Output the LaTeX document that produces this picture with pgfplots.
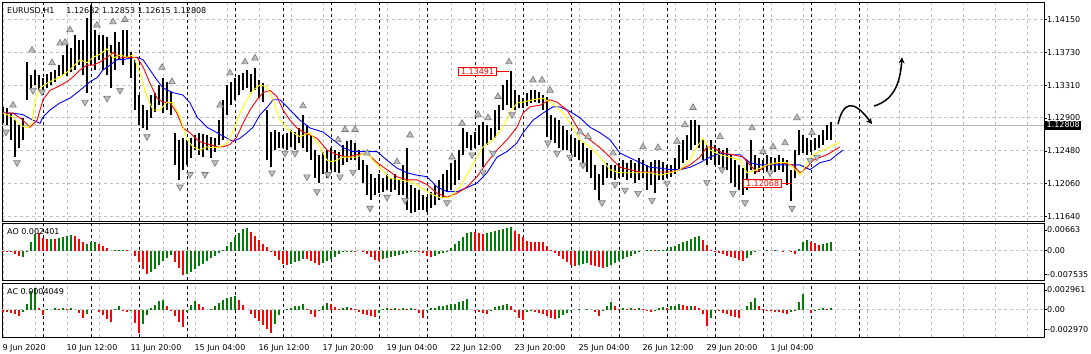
\documentclass[border=0pt]{standalone}
\usepackage{pgfplots}
\pgfplotsset{compat=1.18}
\usepackage{pgfplotstable}
\usepackage{fontspec}
\setmainfont{DejaVu Sans}
\usetikzlibrary{arrows.meta}
\definecolor{gridc}{RGB}{192,192,192}
\definecolor{aogreen}{RGB}{0,128,0}
\definecolor{aored}{RGB}{255,0,0}
\definecolor{mayellow}{RGB}{255,255,0}
\definecolor{fracfill}{RGB}{190,190,190}
\definecolor{fracdraw}{RGB}{120,120,120}

\pgfplotstableread{
x h l
3 1.1304 1.1283
7 1.1303 1.1281
11 1.1296 1.1262
15 1.1287 1.1240
19 1.1281 1.1252
23 1.1290 1.1262
27 1.1361 1.1313
31 1.1345 1.1328
35 1.1351 1.1332
39 1.1345 1.1325
43 1.1341 1.1323
47 1.1346 1.1328
51 1.1348 1.1332
55 1.1351 1.1336
59 1.1357 1.1343
63 1.1370 1.1344
67 1.1383 1.1343
71 1.1379 1.1348
75 1.1396 1.1351
79 1.1389 1.1357
83 1.1389 1.1345
87 1.1417 1.1322
91 1.1434 1.1357
95 1.1402 1.1351
99 1.1396 1.1364
103 1.1396 1.1351
107 1.1393 1.1344
111 1.1383 1.1328
115 1.1399 1.1351
119 1.1386 1.1364
123 1.1402 1.1357
127 1.1402 1.1366
131 1.1374 1.1341
135 1.1364 1.1300
139 1.1319 1.1281
143 1.1306 1.1277
147 1.1300 1.1275
151 1.1319 1.1290
155 1.1322 1.1297
159 1.1332 1.1306
163 1.1341 1.1296
167 1.1336 1.1300
171 1.1323 1.1294
175 1.1271 1.1230
179 1.1262 1.1211
183 1.1264 1.1224
187 1.1262 1.1230
191 1.1264 1.1239
195 1.1268 1.1249
199 1.1271 1.1243
203 1.1269 1.1240
207 1.1268 1.1249
211 1.1266 1.1239
215 1.1264 1.1247
219 1.1287 1.1256
223 1.1313 1.1262
227 1.1332 1.1294
231 1.1336 1.1306
235 1.1341 1.1313
239 1.1345 1.1319
243 1.1347 1.1325
247 1.1351 1.1328
251 1.1346 1.1323
255 1.1354 1.1325
259 1.1338 1.1315
263 1.1334 1.1310
267 1.1300 1.1236
271 1.1272 1.1227
275 1.1275 1.1249
279 1.1272 1.1252
283 1.1268 1.1252
287 1.1271 1.1249
291 1.1275 1.1253
295 1.1272 1.1249
299 1.1277 1.1258
303 1.1294 1.1252
307 1.1281 1.1247
311 1.1268 1.1236
315 1.1249 1.1214
319 1.1243 1.1207
323 1.1247 1.1218
327 1.1249 1.1214
331 1.1252 1.1224
335 1.1249 1.1221
339 1.1247 1.1220
343 1.1256 1.1230
347 1.1260 1.1234
351 1.1262 1.1236
355 1.1258 1.1236
359 1.1249 1.1224
363 1.1236 1.1207
367 1.1230 1.1192
371 1.1218 1.1185
375 1.1214 1.1192
379 1.1218 1.1194
383 1.1214 1.1196
387 1.1218 1.1198
391 1.1214 1.1196
395 1.1218 1.1198
399 1.1211 1.1192
403 1.1230 1.1192
407 1.1252 1.1173
411 1.1205 1.1169
415 1.1201 1.1170
419 1.1198 1.1173
423 1.1192 1.1173
427 1.1189 1.1170
431 1.1196 1.1175
435 1.1205 1.1179
439 1.1211 1.1185
443 1.1218 1.1188
447 1.1224 1.1196
451 1.1233 1.1198
455 1.1236 1.1205
459 1.1249 1.1211
463 1.1277 1.1243
467 1.1272 1.1252
471 1.1268 1.1249
475 1.1272 1.1252
479 1.1281 1.1256
483 1.1285 1.1227
487 1.1281 1.1256
491 1.1277 1.1262
495 1.1300 1.1264
499 1.1306 1.1275
503 1.1332 1.1300
507 1.1338 1.1306
511 1.1349 1.1303
515 1.1325 1.1300
519 1.1319 1.1303
523 1.1315 1.1303
527 1.1322 1.1305
531 1.1325 1.1309
535 1.1325 1.1310
539 1.1323 1.1309
543 1.1319 1.1300
547 1.1317 1.1266
551 1.1294 1.1262
555 1.1290 1.1258
559 1.1287 1.1252
563 1.1279 1.1249
567 1.1275 1.1249
571 1.1268 1.1245
575 1.1264 1.1240
579 1.1262 1.1236
583 1.1258 1.1230
587 1.1252 1.1221
591 1.1249 1.1214
595 1.1230 1.1198
599 1.1218 1.1185
603 1.1230 1.1205
607 1.1233 1.1214
611 1.1230 1.1214
615 1.1230 1.1211
619 1.1233 1.1214
623 1.1236 1.1215
627 1.1233 1.1211
631 1.1236 1.1214
635 1.1233 1.1207
639 1.1239 1.1211
643 1.1236 1.1214
647 1.1230 1.1198
651 1.1234 1.1205
655 1.1236 1.1194
659 1.1236 1.1211
663 1.1234 1.1211
667 1.1230 1.1214
671 1.1230 1.1215
675 1.1239 1.1218
679 1.1256 1.1224
683 1.1262 1.1233
687 1.1268 1.1236
691 1.1287 1.1249
695 1.1287 1.1256
699 1.1281 1.1252
703 1.1262 1.1236
707 1.1256 1.1230
711 1.1262 1.1236
715 1.1256 1.1230
719 1.1252 1.1230
723 1.1249 1.1226
727 1.1252 1.1224
731 1.1243 1.1207
735 1.1236 1.1202
739 1.1230 1.1198
743 1.1226 1.1192
747 1.1236 1.1198
751 1.1262 1.1224
755 1.1243 1.1218
759 1.1239 1.1221
763 1.1236 1.1224
767 1.1243 1.1221
771 1.1240 1.1224
775 1.1239 1.1221
779 1.1243 1.1224
783 1.1239 1.1221
787 1.1236 1.1205
791 1.1224 1.1184
795 1.1249 1.1214
799 1.1275 1.1243
803 1.1268 1.1245
807 1.1264 1.1243
811 1.1262 1.1247
815 1.1264 1.1249
819 1.1268 1.1252
823 1.1275 1.1256
827 1.1281 1.1262
831 1.1285 1.1262
}\bars

\pgfplotstableread{
x v c
3 -0.0002 0
7 -0.0004 0
11 -0.0006 0
15 -0.0012 0
19 -0.0018 0
23 -0.0022 1
27 -0.0006 1
31 0.0027 1
35 0.0053 1
39 0.0056 0
43 0.0039 0
47 0.0037 0
51 0.0038 1
55 0.0037 0
59 0.0040 1
63 0.0043 1
67 0.0046 1
71 0.0049 1
75 0.0046 0
79 0.0036 0
83 0.0026 0
87 0.0022 1
91 0.0026 1
95 0.0028 1
99 0.0020 0
103 0.0014 0
107 0.0007 0
111 0.0000 0
115 0.0001 1
119 0.0002 1
123 0.0003 1
127 0.0001 0
131 0.0000 0
135 -0.0016 0
139 -0.0037 0
143 -0.0058 0
147 -0.0074 0
151 -0.0070 1
155 -0.0058 1
159 -0.0046 1
163 -0.0034 1
167 -0.0023 1
171 -0.0015 1
175 -0.0036 0
179 -0.0056 0
183 -0.0078 0
187 -0.0075 1
191 -0.0067 1
195 -0.0059 1
199 -0.0050 1
203 -0.0042 1
207 -0.0033 1
211 -0.0025 1
215 -0.0016 1
219 -0.0008 1
223 0.0002 1
227 0.0015 1
231 0.0028 1
235 0.0042 1
239 0.0055 1
243 0.0068 1
247 0.0073 1
251 0.0060 0
255 0.0046 0
259 0.0034 0
263 0.0022 0
267 0.0011 0
271 -0.0002 0
275 -0.0016 0
279 -0.0029 0
283 -0.0042 0
287 -0.0047 0
291 -0.0042 1
295 -0.0037 1
299 -0.0032 1
303 -0.0027 1
307 -0.0027 0
311 -0.0032 0
315 -0.0039 0
319 -0.0046 0
323 -0.0041 1
327 -0.0034 1
331 -0.0026 1
335 -0.0019 1
339 -0.0012 1
343 -0.0004 1
347 -0.0002 1
351 -0.0001 1
355 -0.0002 0
359 0.0000 1
363 -0.0003 0
367 -0.0012 0
371 -0.0020 0
375 -0.0029 0
379 -0.0032 0
383 -0.0028 1
387 -0.0025 1
391 -0.0021 1
395 -0.0018 1
399 -0.0015 1
403 -0.0012 1
407 -0.0008 1
411 -0.0005 1
415 -0.0002 1
419 -0.0003 0
423 -0.0009 0
427 -0.0016 0
431 -0.0022 0
435 -0.0017 1
439 -0.0012 1
443 -0.0007 1
447 -0.0002 1
451 0.0008 1
455 0.0020 1
459 0.0032 1
463 0.0044 1
467 0.0056 1
471 0.0061 1
475 0.0058 0
479 0.0056 0
483 0.0053 0
487 0.0056 1
491 0.0059 1
495 0.0062 1
499 0.0065 1
503 0.0069 1
507 0.0072 1
511 0.0075 1
515 0.0064 0
519 0.0054 0
523 0.0043 0
527 0.0032 0
531 0.0029 0
535 0.0028 0
539 0.0027 0
543 0.0026 0
547 0.0016 0
551 0.0003 0
555 -0.0007 0
559 -0.0016 0
563 -0.0026 0
567 -0.0035 0
571 -0.0045 0
575 -0.0049 0
579 -0.0045 1
583 -0.0042 1
587 -0.0041 1
591 -0.0045 0
595 -0.0050 0
599 -0.0054 0
603 -0.0057 0
607 -0.0051 1
611 -0.0046 1
615 -0.0040 1
619 -0.0034 1
623 -0.0028 1
627 -0.0022 1
631 -0.0016 1
635 -0.0011 1
639 -0.0005 1
643 0.0000 1
647 0.0001 1
651 0.0002 1
655 0.0001 0
659 0.0002 1
663 0.0003 1
667 0.0004 1
671 0.0010 1
675 0.0015 1
679 0.0020 1
683 0.0026 1
687 0.0031 1
691 0.0036 1
695 0.0042 1
699 0.0047 1
703 0.0035 0
707 0.0019 0
711 0.0003 0
715 -0.0003 0
719 -0.0008 0
723 -0.0012 0
727 -0.0016 0
731 -0.0020 0
735 -0.0024 0
739 -0.0029 0
743 -0.0033 0
747 -0.0024 1
751 -0.0014 1
755 -0.0005 1
759 0.0000 1
763 0.0000 0
767 0.0001 1
771 0.0000 0
775 0.0001 1
779 0.0000 0
783 -0.0001 0
787 0.0000 1
791 -0.0005 0
795 -0.0012 0
799 0.0004 1
803 0.0026 1
807 0.0034 1
811 0.0028 0
815 0.0023 0
819 0.0019 0
823 0.0021 1
827 0.0025 1
831 0.0029 1
}\aodata

\pgfplotstableread{
x v c
3 -0.0004 0
7 -0.0004 0
11 -0.0005 0
15 -0.0007 0
19 -0.0010 0
23 -0.0004 1
27 0.0009 1
31 0.0028 1
35 0.0033 1
39 0.0003 0
43 -0.0008 0
47 0.0001 1
51 0.0000 0
55 0.0002 1
59 0.0001 0
63 0.0002 1
67 0.0001 0
71 0.0002 1
75 0.0000 0
79 -0.0005 0
83 -0.0013 0
87 -0.0006 1
91 0.0000 1
95 0.0000 0
99 -0.0003 0
103 -0.0008 0
107 -0.0014 0
111 -0.0019 0
115 0.0001 1
119 0.0006 1
123 -0.0001 0
127 -0.0004 0
131 -0.0001 1
135 -0.0020 0
139 -0.0035 0
143 -0.0022 1
147 -0.0008 1
151 0.0002 1
155 0.0007 1
159 0.0013 1
163 0.0015 1
167 0.0006 0
171 -0.0002 0
175 -0.0010 0
179 -0.0019 0
183 -0.0026 0
187 -0.0003 1
191 0.0007 1
195 0.0013 1
199 0.0009 0
203 0.0004 0
207 0.0000 0
211 0.0001 1
215 0.0006 1
219 0.0010 1
223 0.0014 1
227 0.0017 1
231 0.0019 1
235 0.0021 1
239 0.0014 0
243 0.0007 0
247 0.0000 0
251 -0.0006 0
255 -0.0012 0
259 -0.0017 0
263 -0.0023 0
267 -0.0029 0
271 -0.0035 0
275 -0.0022 1
279 -0.0008 1
283 0.0000 1
287 0.0001 1
291 0.0003 1
295 0.0005 1
299 0.0006 1
303 0.0008 1
307 0.0001 0
311 -0.0006 0
315 -0.0011 0
319 -0.0002 1
323 0.0005 1
327 0.0010 1
331 0.0008 0
335 0.0004 0
339 0.0001 0
343 0.0003 1
347 0.0004 1
351 0.0003 0
355 0.0001 0
359 -0.0003 0
363 -0.0006 0
367 -0.0008 0
371 -0.0010 0
375 -0.0011 0
379 -0.0005 1
383 0.0001 1
387 0.0002 1
391 0.0001 0
395 0.0002 1
399 0.0001 0
403 0.0002 1
407 0.0001 0
411 0.0002 1
415 0.0001 0
419 -0.0005 0
423 -0.0013 0
427 -0.0001 1
431 0.0002 1
435 0.0003 1
439 0.0005 1
443 0.0006 1
447 0.0007 1
451 0.0008 1
455 0.0009 1
459 0.0011 1
463 0.0013 1
467 0.0016 1
471 0.0000 0
475 -0.0002 0
479 -0.0003 0
483 -0.0005 0
487 -0.0006 0
491 -0.0002 1
495 0.0004 1
499 0.0006 1
503 0.0007 1
507 0.0008 1
511 0.0005 0
515 -0.0004 0
519 -0.0013 0
523 -0.0016 0
527 -0.0004 1
531 -0.0001 1
535 -0.0003 0
539 -0.0005 0
543 -0.0006 0
547 -0.0009 0
551 -0.0013 0
555 -0.0014 0
559 -0.0013 1
563 -0.0008 1
567 -0.0005 1
571 -0.0002 1
575 0.0000 1
579 0.0001 1
583 0.0000 0
587 0.0001 1
591 0.0000 0
595 -0.0004 0
599 -0.0009 0
603 -0.0002 1
607 0.0006 1
611 0.0012 1
615 0.0006 0
619 0.0001 0
623 0.0002 1
627 0.0001 0
631 0.0002 1
635 0.0001 0
639 0.0002 1
643 0.0001 0
647 -0.0002 0
651 -0.0004 0
655 -0.0002 1
659 0.0003 1
663 0.0004 1
667 0.0003 0
671 0.0005 1
675 0.0006 1
679 0.0008 1
683 0.0007 0
687 0.0005 0
691 0.0006 1
695 0.0005 0
699 0.0003 0
703 -0.0007 0
707 -0.0024 0
711 -0.0012 1
715 -0.0001 1
719 -0.0002 0
723 -0.0005 0
727 -0.0007 0
731 -0.0009 0
735 -0.0011 0
739 -0.0012 0
743 0.0000 1
747 0.0006 1
751 0.0011 1
755 0.0017 1
759 0.0006 0
763 0.0001 0
767 -0.0001 0
771 -0.0002 0
775 -0.0003 0
779 -0.0004 0
783 -0.0005 0
787 -0.0006 0
791 -0.0004 1
795 -0.0001 1
799 0.0012 1
803 0.0023 1
807 0.0000 0
811 -0.0005 0
815 -0.0001 1
819 0.0001 1
823 0.0002 1
827 0.0001 0
831 0.0003 1
}\acdata

\pgfplotsset{
  mt4/.style={
    scale only axis, clip=false, anchor=south west,
    width=1042pt, xmin=2, xmax=1044,
    axis line style={black, line width=0.8pt},
    xtick={3.4,35.4,...,1030},
    xmajorgrids=true,
    grid style={gridc, dash pattern=on 3pt off 3pt, line width=0.8pt},
    xtick style={draw=none},
    ytick pos=right, yticklabel pos=right,
    ytick style={black, line width=0.6pt},
    tick align=outside, major tick length=3pt,
    scaled y ticks=false, scaled x ticks=false,
    every tick label/.append style={font=\fontsize{8}{9}\selectfont},
    yticklabel style={anchor=west, inner sep=0pt},
    extra x ticks={43.4,91.4,...,860},
    extra x tick labels={},
    extra x tick style={major grid style={black, dash pattern=on 3pt off 3pt, line width=0.8pt}},
  },
  osc/.style={ycomb, line width=1.8pt, forget plot},
}

\begin{document}
\begin{tikzpicture}
\useasboundingbox (0pt,0pt) rectangle (1091pt,353pt);

% ---------------- main price panel ----------------
\begin{axis}[mt4, at={(2pt,131.5pt)}, height=219pt,
  ymin=1.11580, ymax=1.14368, ymajorgrids=true,
  ytick={1.1415,1.1373,1.1331,1.1290,1.1248,1.1206,1.1164},
  yticklabels={1.14150,1.13730,1.13310,1.12900,1.12480,1.12060,1.11640},
  xticklabels={}]
\addplot[gray!55, line width=0.9pt, forget plot] coordinates {(2,1.12808) (1044,1.12808)};
% high-low bars
\addplot[black, line width=1.45pt, line cap=butt, no marks, forget plot,
  quiver={u=0, v=\thisrow{h}-\thisrow{l}}]
  table[x=x, y=l] {\bars};
% moving averages
\addplot[blue, line width=0.9pt] coordinates {(3,1.1296)(13,1.1296)(23,1.1294)(33,1.1287)(40,1.1283)(43,1.1291)(50,1.1300)(60,1.1309)(70,1.1315)(80,1.1325)(90,1.1336)(97,1.1341)(103,1.1351)(110,1.1357)(117,1.1364)(123,1.1364)(130,1.1366)(137,1.1367)(143,1.1364)(150,1.1351)(157,1.1338)(163,1.1328)(173,1.1322)(183,1.1319)(190,1.1309)(197,1.1291)(207,1.1278)(217,1.1271)(227,1.1264)(233,1.1260)(240,1.1264)(247,1.1271)(253,1.1278)(260,1.1294)(267,1.1303)(273,1.1313)(280,1.1313)(287,1.1304)(293,1.1296)(300,1.1287)(310,1.1277)(323,1.1272)(333,1.1262)(343,1.1252)(353,1.1247)(363,1.1247)(377,1.1247)(387,1.1236)(397,1.1226)(407,1.1220)(417,1.1217)(427,1.1215)(437,1.1202)(447,1.1196)(457,1.1196)(467,1.1201)(477,1.1207)(487,1.1220)(497,1.1240)(507,1.1247)(517,1.1258)(523,1.1271)(533,1.1287)(543,1.1296)(553,1.1304)(560,1.1304)(570,1.1298)(580,1.1290)(590,1.1278)(600,1.1271)(610,1.1262)(620,1.1245)(630,1.1239)(640,1.1233)(650,1.1227)(660,1.1226)(670,1.1224)(680,1.1224)(690,1.1227)(700,1.1233)(710,1.1240)(720,1.1245)(730,1.1243)(740,1.1243)(750,1.1233)(760,1.1230)(770,1.1230)(780,1.1230)(790,1.1230)(800,1.1230)(810,1.1224)(820,1.1233)(830,1.1236)(843,1.1249)};
\addplot[red, line width=0.9pt] coordinates {(3,1.1296)(13,1.1296)(23,1.1287)(30,1.1278)(37,1.1287)(43,1.1313)(50,1.1325)(57,1.1329)(67,1.1336)(73,1.1342)(80,1.1351)(87,1.1357)(93,1.1357)(100,1.1361)(107,1.1367)(113,1.1373)(120,1.1366)(127,1.1367)(137,1.1367)(143,1.1355)(150,1.1334)(157,1.1315)(163,1.1310)(170,1.1309)(177,1.1296)(183,1.1277)(190,1.1271)(197,1.1262)(203,1.1258)(210,1.1256)(217,1.1253)(223,1.1253)(230,1.1256)(237,1.1266)(243,1.1283)(250,1.1300)(257,1.1313)(263,1.1322)(270,1.1325)(277,1.1317)(283,1.1300)(290,1.1287)(297,1.1277)(303,1.1272)(317,1.1264)(327,1.1249)(337,1.1243)(347,1.1240)(357,1.1243)(367,1.1245)(377,1.1233)(387,1.1224)(397,1.1215)(407,1.1211)(417,1.1211)(427,1.1205)(437,1.1194)(447,1.1189)(457,1.1194)(467,1.1202)(477,1.1215)(487,1.1233)(497,1.1249)(507,1.1262)(517,1.1278)(523,1.1296)(530,1.1304)(540,1.1306)(550,1.1313)(557,1.1310)(567,1.1300)(580,1.1272)(590,1.1262)(600,1.1252)(610,1.1240)(620,1.1227)(630,1.1224)(640,1.1221)(650,1.1221)(660,1.1221)(670,1.1221)(680,1.1224)(690,1.1230)(700,1.1240)(707,1.1253)(713,1.1252)(723,1.1245)(733,1.1243)(743,1.1240)(750,1.1230)(757,1.1221)(767,1.1230)(780,1.1233)(793,1.1230)(800,1.1220)(807,1.1227)(813,1.1236)(827,1.1243)(840,1.1253)};
\addplot[mayellow, line width=0.9pt] coordinates {(3,1.1296)(13,1.1291)(20,1.1281)(27,1.1277)(32,1.1283)(35,1.1313)(40,1.1328)(47,1.1334)(53,1.1338)(60,1.1342)(67,1.1348)(73,1.1355)(80,1.1364)(87,1.1360)(93,1.1367)(100,1.1371)(107,1.1378)(113,1.1366)(120,1.1370)(127,1.1367)(133,1.1370)(140,1.1347)(147,1.1317)(153,1.1300)(160,1.1300)(167,1.1310)(173,1.1309)(180,1.1291)(187,1.1262)(193,1.1253)(200,1.1249)(207,1.1253)(213,1.1252)(220,1.1253)(227,1.1258)(233,1.1272)(240,1.1296)(247,1.1313)(253,1.1325)(260,1.1332)(267,1.1329)(273,1.1313)(280,1.1287)(287,1.1277)(293,1.1271)(300,1.1266)(310,1.1271)(320,1.1253)(327,1.1236)(333,1.1234)(343,1.1240)(357,1.1240)(367,1.1247)(373,1.1236)(380,1.1227)(390,1.1213)(400,1.1211)(413,1.1208)(420,1.1202)(430,1.1194)(440,1.1188)(450,1.1189)(460,1.1202)(470,1.1224)(477,1.1240)(483,1.1253)(493,1.1262)(503,1.1278)(510,1.1296)(517,1.1309)(523,1.1310)(533,1.1313)(543,1.1315)(550,1.1310)(557,1.1304)(563,1.1296)(570,1.1283)(580,1.1262)(590,1.1253)(600,1.1240)(610,1.1224)(620,1.1220)(630,1.1220)(640,1.1220)(650,1.1220)(660,1.1217)(670,1.1220)(680,1.1224)(690,1.1236)(697,1.1253)(703,1.1264)(710,1.1249)(720,1.1243)(730,1.1240)(740,1.1236)(747,1.1220)(757,1.1224)(767,1.1230)(777,1.1233)(787,1.1233)(793,1.1227)(800,1.1217)(807,1.1233)(813,1.1243)(823,1.1249)(840,1.1259)};
% fractals
\addplot[only marks, mark=triangle*, mark size=3.8pt, mark options={fill=fracfill, draw=fracdraw, line width=0.6pt}] coordinates {(13,1.1306)(32,1.1376)(52,1.1360)(60,1.1385)(65,1.1386)(70,1.1402)(97,1.1408)(113,1.1412)(125,1.1415)(162,1.1354)(172,1.1336)(220,1.1306)(230,1.1347)(245,1.1361)(255,1.1366)(303,1.1305)(338,1.1262)(345,1.1275)(355,1.1275)(367,1.1245)(397,1.1234)(410,1.1268)(452,1.1240)(462,1.1283)(478,1.1294)(488,1.1290)(498,1.1317)(509,1.1361)(533,1.1338)(542,1.1338)(550,1.1325)(580,1.1272)(588,1.1266)(613,1.1245)(643,1.1253)(658,1.1252)(677,1.1260)(685,1.1281)(693,1.1303)(720,1.1266)(752,1.1277)(763,1.1247)(773,1.1253)(785,1.1258)(797,1.1290)(812,1.1271)};
\addplot[only marks, mark=triangle*, mark size=3.8pt, mark options={rotate=180, fill=fracfill, draw=fracdraw, line width=0.6pt}] coordinates {(6,1.1272)(17,1.1233)(33,1.1325)(42,1.1323)(85,1.1310)(107,1.1315)(120,1.1325)(147,1.1266)(180,1.1202)(190,1.1218)(205,1.1218)(215,1.1233)(272,1.1220)(285,1.1245)(295,1.1245)(307,1.1215)(317,1.1196)(328,1.1218)(340,1.1215)(353,1.1221)(370,1.1175)(387,1.1189)(405,1.1185)(447,1.1182)(472,1.1243)(483,1.1221)(493,1.1245)(512,1.1294)(548,1.1258)(557,1.1245)(570,1.1240)(583,1.1230)(602,1.1182)(615,1.1205)(625,1.1198)(638,1.1194)(652,1.1185)(667,1.1207)(707,1.1208)(722,1.1224)(733,1.1194)(745,1.1182)(770,1.1220)(792,1.1175)(810,1.1236)(817,1.1240)};
% price labels
\draw[red, line width=0.7pt] (axis cs:497,1.13491) -- (axis cs:509,1.13491);
\node[draw=red, fill=white, text=red, line width=0.7pt, inner xsep=2.5pt, inner ysep=1.2pt, anchor=east, font=\fontsize{8}{9}\selectfont] at (axis cs:497,1.13491) {1.13491};
\draw[red, line width=0.7pt] (axis cs:782,1.12068) -- (axis cs:792,1.12068);
\node[draw=red, fill=white, text=red, line width=0.7pt, inner xsep=2.5pt, inner ysep=1.2pt, anchor=east, font=\fontsize{8}{9}\selectfont] at (axis cs:782,1.12068) {1.12068};
% hand drawn arrows
\draw[black, line width=1.5pt, -{Stealth[length=6pt,width=6pt]}] (axis cs:838,1.1282) .. controls (axis cs:843,1.1310) and (axis cs:853,1.1315) .. (axis cs:872,1.1282);
\draw[black, line width=1.5pt, -{Stealth[length=6pt,width=6pt]}] (axis cs:874,1.1305) .. controls (axis cs:892,1.1312) and (axis cs:900,1.1330) .. (axis cs:902,1.1367);
% current price box
\node[fill=black, text=white, inner xsep=1.5pt, inner ysep=1.5pt, anchor=west, font=\fontsize{8}{9}\selectfont] at (axis cs:1045,1.12808) {1.12808};
\end{axis}

% ---------------- AO panel ----------------
\begin{axis}[mt4, at={(2pt,73pt)}, height=56.5pt,
  ymin=-0.00941, ymax=0.00867,
  ytick={0.00663,-0.007535}, yticklabels={0.00663,-0.007535},
  extra y ticks={0}, extra y tick labels={0.00},
  extra y tick style={ymajorgrids=true},
  xticklabels={}]
\addplot[osc, aogreen, restrict expr to domain={\thisrow{c}}{0.5:1.5}] table[x=x, y=v] {\aodata};
\addplot[osc, aored, restrict expr to domain={\thisrow{c}}{-0.5:0.5}] table[x=x, y=v] {\aodata};
\end{axis}

% ---------------- AC panel ----------------
\begin{axis}[mt4, at={(2pt,16pt)}, height=54pt,
  ymin=-0.00407, ymax=0.00398,
  ytick={0.002961,-0.002970}, yticklabels={0.002961,-0.002970},
  extra y ticks={0}, extra y tick labels={0.00},
  extra y tick style={ymajorgrids=true},
  xticklabels={9 Jun 2020,,10 Jun 12:00,,11 Jun 20:00,,15 Jun 04:00,,16 Jun 12:00,,17 Jun 20:00,,19 Jun 04:00,,22 Jun 12:00,,23 Jun 20:00,,25 Jun 04:00,,26 Jun 12:00,,29 Jun 20:00,,1 Jul 04:00},
  xticklabel style={anchor=north west, inner sep=0pt, yshift=-4pt, xshift=-1pt}]
\addplot[osc, aogreen, restrict expr to domain={\thisrow{c}}{0.5:1.5}] table[x=x, y=v] {\acdata};
\addplot[osc, aored, restrict expr to domain={\thisrow{c}}{-0.5:0.5}] table[x=x, y=v] {\acdata};
\end{axis}

% panel titles
\node[anchor=west, inner sep=0pt, font=\fontsize{8}{9}\selectfont] at (7pt,342pt) {EURUSD,H1\hspace{12pt}1.12682 1.12853 1.12615 1.12808};
\node[anchor=west, inner sep=0pt, font=\fontsize{8}{9}\selectfont] at (7pt,121pt) {AO 0.002401};
\node[anchor=west, inner sep=0pt, font=\fontsize{8}{9}\selectfont] at (7pt,61pt) {AC 0.0004049};
\end{tikzpicture}
\end{document}
